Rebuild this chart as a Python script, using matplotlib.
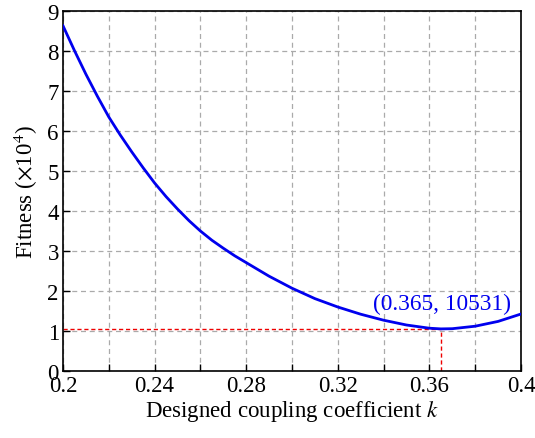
import matplotlib.pyplot as plt

plt.rcParams['font.family'] = ['Liberation Serif', 'DejaVu Serif']
plt.rcParams['mathtext.fontset'] = 'stix'

# fitness (x1e4) against designed coupling coefficient k
k = [0.200, 0.205, 0.210, 0.215, 0.220, 0.225, 0.230, 0.235, 0.240, 0.245,
     0.250, 0.255, 0.260, 0.265, 0.270, 0.275, 0.280, 0.290, 0.300, 0.310,
     0.320, 0.330, 0.340, 0.350, 0.360, 0.365, 0.370, 0.380, 0.390, 0.400]
fit = [8.63, 8.01, 7.42, 6.87, 6.35, 5.90, 5.48, 5.08, 4.70, 4.36,
       4.05, 3.76, 3.50, 3.27, 3.07, 2.88, 2.71, 2.37, 2.07, 1.81,
       1.60, 1.42, 1.27, 1.15, 1.07, 1.0531, 1.058, 1.12, 1.24, 1.425]

k_opt = 0.365
fit_opt = 10531

fig = plt.figure(figsize=(5.35, 4.39), dpi=100)
ax = fig.add_axes([0.1178, 0.1526, 0.856, 0.820])

ax.plot(k, fit, color='#0000ee', lw=2, zorder=3)
# mark the minimum
ax.plot([0.2, k_opt], [fit_opt / 1e4] * 2, color='#ee0000', lw=1.0, ls=(0, (3, 2)), zorder=2)
ax.plot([k_opt, k_opt], [0, fit_opt / 1e4], color='#ee0000', lw=1.0, ls=(0, (3, 2)), zorder=2)
ax.text(0.3655, 1.70, '(%.3f, %d)' % (k_opt, fit_opt), color='#0000ee',
        fontsize=16.8, ha='center', va='center')

ax.set_xlim(0.2, 0.4)
ax.set_ylim(0, 9)
ax.set_xticks([0.2 + 0.02 * i for i in range(11)])
ax.set_xticklabels(['0.2', '', '0.24', '', '0.28', '', '0.32', '', '0.36', '', '0.4'])
ax.set_yticks(range(10))
ax.tick_params(direction='in', labelsize=16.5, length=5, width=1, pad=3)
ax.grid(True, color='#aaaaaa', ls=(0, (4, 3)), lw=0.9)
for s in ax.spines.values():
    s.set_linewidth(1.2)

ax.set_xlabel('Designed coupling coefficient $k$', fontsize=16.5, labelpad=1)
ax.set_ylabel(r'Fitness ($\times$10$^4$)', fontsize=16.5, labelpad=5)

fig.savefig('out.png', dpi=100)
